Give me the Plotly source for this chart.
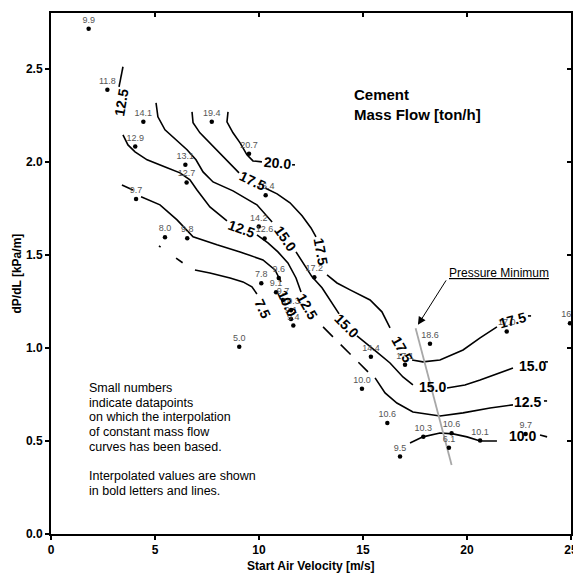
import plotly.graph_objects as go

# ---- measured datapoints (air velocity, pressure gradient, cement mass flow label) ----
pt_x = [1.81, 2.71, 4.44, 4.05, 6.46, 6.52, 4.09, 7.73, 9.52, 10.32, 5.48, 6.55,
        9.99, 10.27, 10.95, 10.11, 10.82, 11.15, 11.54, 11.54, 11.65, 9.05, 12.66,
        15.38, 14.95, 16.17, 17.02, 18.22, 17.90, 19.26, 19.13, 20.63, 22.82,
        16.78, 21.91, 24.95]
pt_y = [2.715, 2.387, 2.215, 2.082, 1.985, 1.889, 1.801, 2.215, 2.043, 1.820,
        1.595, 1.590, 1.652, 1.588, 1.376, 1.347, 1.299, 1.258, 1.204, 1.156,
        1.120, 1.007, 1.380, 0.953, 0.781, 0.597, 0.909, 1.022, 0.523, 0.541,
        0.464, 0.502, 0.538, 0.416, 1.088, 1.133]
pt_label = ["9.9", "11.8", "14.1", "12.9", "13.1", "12.7", "9.7", "19.4", "20.7",
            "16.4", "8.0", "9.8", "14.2", "12.6", "9.6", "7.8", "9.1", "9.7",
            "10.3", "9.1", "9.4", "5.0", "17.2", "14.4", "10.0", "10.6", "17.1",
            "18.6", "10.3", "10.6", "6.1", "10.1", "9.7", "9.5", "17.0", "16.5"]

# ---- interpolated constant mass-flow curves (None = gap for the curve label) ----
c200_x = [8.51, 8.46, 8.75, 9.09, 9.42, 9.71, 10.14, None, 11.59, 11.73]
c200_y = [2.269, 2.215, 2.156, 2.102, 2.038, 2.005, 2.000, None, 1.984, 1.984]

c175_x = [6.78, 6.83, 7.16, 7.64, 8.27, 8.75, 9.04, None,
          10.29, 10.87, 11.49, 12.07, 12.50, 12.74, None,
          13.27, 13.75, 14.38, 15.34, 15.91, 16.30, None,
          17.36, 17.88, 18.70, 19.81, 20.63, 21.44, None, 22.93, 23.08]
c175_y = [2.269, 2.210, 2.156, 2.102, 2.027, 1.973, 1.941, None,
          1.860, 1.828, 1.780, 1.710, 1.645, 1.597, None,
          1.392, 1.349, 1.312, 1.258, 1.194, 1.108, None,
          0.935, 0.925, 0.935, 0.989, 1.054, 1.113, None, 1.172, 1.172]

c150_x = [5.05, 5.14, 5.48, 6.06, 6.54, 6.97, 7.31, 7.79, 8.75, 9.90, 10.63, None,
          11.78, 12.12, 12.55, 13.03, 13.51, 13.85, None,
          14.71, 15.14, 15.67, 16.30, 16.92, 17.40, None,
          19.04, 19.90, 20.63, 21.44, 22.21, None, 23.75, 23.89]
c150_y = [2.317, 2.242, 2.172, 2.113, 2.065, 2.011, 1.946, 1.892, 1.844, 1.769, 1.677, None,
          1.516, 1.457, 1.382, 1.323, 1.242, 1.183, None,
          1.065, 1.027, 0.978, 0.919, 0.844, 0.801, None,
          0.785, 0.801, 0.828, 0.860, 0.892, None, 0.925, 0.925]

c125_x = [3.46, 3.27, None,
          3.46, 3.70, 4.04, 4.62, 5.58, 6.20, 6.68, 7.02, 7.64, 8.46, None,
          9.90, 10.43, 10.91, 11.39, 11.78, 12.02, None,
          15.58, 16.06, 16.63, 17.40, 18.70, 19.81, 21.11, 22.21, None, 23.70, 23.85]
c125_y = [2.511, 2.403, None,
          2.145, 2.091, 2.054, 2.011, 1.968, 1.941, 1.903, 1.849, 1.758, 1.683, None,
          1.608, 1.565, 1.516, 1.457, 1.376, 1.301, None,
          0.839, 0.758, 0.704, 0.656, 0.634, 0.651, 0.677, 0.694, None, 0.715, 0.715]
c125_ext_x = [13.08, 15.24]
c125_ext_y = [1.113, 0.871]

c100_x = [3.41, 3.94, None, 4.33, 5.24, 6.06, 6.83, 7.98, 9.09, 10.19, 10.77, 11.06, None,
          17.26, 17.88, 18.70, 19.33, 20.00, 20.63, 21.44, None, 23.51, 23.85]
c100_y = [1.876, 1.849, None, 1.812, 1.769, 1.688, 1.597, 1.554, 1.516, 1.473, 1.419, 1.355, None,
          0.489, 0.522, 0.543, 0.538, 0.522, 0.500, 0.500, None, 0.532, 0.522]

c075_x = [6.92, 7.64, 8.61, 9.23, 9.66, 9.90]
c075_y = [1.419, 1.403, 1.376, 1.355, 1.328, 1.290]
c075_ext_x = [5.19, 6.68]
c075_ext_y = [1.548, 1.430]

# curve labels: value, x, y, text angle
curve_labels = [
    ("20.0", 10.91, 1.995, 5),
    ("17.5", 9.71, 1.898, 25), ("17.5", 12.98, 1.516, 80),
    ("17.5", 16.88, 0.995, 60), ("17.5", 22.21, 1.151, -15),
    ("15.0", 11.25, 1.591, 55), ("15.0", 14.23, 1.118, 45),
    ("15.0", 18.32, 0.790, 0), ("15.0", 23.13, 0.903, 0),
    ("12.5", 3.37, 2.317, -80), ("12.5", 9.18, 1.640, 20),
    ("12.5", 12.31, 1.226, 60), ("12.5", 22.93, 0.710, 0),
    ("10.0", 11.35, 1.242, 65), ("10.0", 22.69, 0.527, 0),
    ("7.5", 10.19, 1.210, 65),
]

# pressure-minimum locus
pmin_x = [17.53, 19.26]
pmin_y = [1.106, 0.371]

x_ticks = [0, 5, 10, 15, 20, 25]
y_ticks = [0.0, 0.5, 1.0, 1.5, 2.0, 2.5]

FONT = "Liberation Sans, Arial, sans-serif"

fig = go.Figure()

line_style = dict(color="black", width=1.6)
for cx, cy in [(c200_x, c200_y), (c175_x, c175_y), (c150_x, c150_y),
               (c125_x, c125_y), (c100_x, c100_y), (c075_x, c075_y)]:
    fig.add_trace(go.Scatter(x=cx, y=cy, mode="lines", line=line_style,
                             connectgaps=False, showlegend=False, hoverinfo="skip"))

# dashed extrapolations
fig.add_trace(go.Scatter(x=c125_ext_x, y=c125_ext_y, mode="lines",
                         line=dict(color="black", width=1.6, dash="14px,11px"),
                         showlegend=False, hoverinfo="skip"))
fig.add_trace(go.Scatter(x=c075_ext_x, y=c075_ext_y, mode="lines",
                         line=dict(color="black", width=1.6, dash="2px,19px,8px,11px"),
                         showlegend=False, hoverinfo="skip"))

# pressure minimum line
fig.add_trace(go.Scatter(x=pmin_x, y=pmin_y, mode="lines",
                         line=dict(color="#a8a8a8", width=1.8),
                         showlegend=False, hoverinfo="skip"))

# datapoints
fig.add_trace(go.Scatter(x=pt_x, y=pt_y, mode="markers+text", text=pt_label,
                         textposition="top center",
                         textfont=dict(family=FONT, size=9, color="#555555"),
                         marker=dict(color="black", size=4.5),
                         cliponaxis=False, showlegend=False, hoverinfo="skip"))

# frame axes (top / right with inward ticks)
fig.add_trace(go.Scatter(x=[None], y=[None], xaxis="x2", yaxis="y2",
                         showlegend=False, hoverinfo="skip"))

for txt, lx, ly, ang in curve_labels:
    fig.add_annotation(x=lx, y=ly, text=txt, textangle=ang, showarrow=False,
                       font=dict(family=FONT, size=14, color="black", weight="bold"),
                       xanchor="center", yanchor="middle")

fig.add_annotation(x=14.47, y=2.309, xanchor="left", yanchor="middle", align="left",
                   text="Cement<br>Mass Flow [ton/h]", showarrow=False,
                   font=dict(family=FONT, size=15, color="black", weight="bold"))

# pressure minimum callout
fig.add_annotation(x=21.54, y=1.405, text="<u>Pressure Minimum</u>", showarrow=False,
                   xanchor="center", yanchor="middle",
                   font=dict(family=FONT, size=12, color="black"))
fig.add_annotation(x=17.64, y=1.124, ax=19.04, ay=1.371, axref="x", ayref="y",
                   text="", showarrow=True, arrowhead=2, arrowsize=1.6,
                   arrowwidth=1, arrowcolor="black")

note_lines = ["Small numbers", "indicate datapoints", "on which the interpolation",
              "of constant mass flow", "curves has been based.", "",
              "Interpolated values are shown", "in bold letters and lines."]
for i, ln in enumerate(note_lines):
    if ln:
        fig.add_annotation(x=1.73, y=0.785 - i * 0.079, text=ln, showarrow=False,
                           xanchor="left", yanchor="middle",
                           font=dict(family=FONT, size=12.5, color="black"))

# axis titles
fig.add_annotation(xref="paper", yref="paper", x=0.5, y=0, yshift=-32,
                   text="Start Air Velocity [m/s]", showarrow=False,
                   xanchor="center", yanchor="middle",
                   font=dict(family=FONT, size=12, color="black", weight="bold"))
fig.add_annotation(xref="paper", yref="paper", x=0, y=0.5, xshift=-35,
                   text="dP/dL [kPa/m]", textangle=-90, showarrow=False,
                   xanchor="center", yanchor="middle",
                   font=dict(family=FONT, size=12, color="black", weight="bold"))

tickfont = dict(family=FONT, size=12, color="black", weight="bold")
fig.update_layout(
    width=573, height=577,
    margin=dict(l=51, r=2, t=13, b=43, autoexpand=False),
    paper_bgcolor="white", plot_bgcolor="white",
    showlegend=False,
    xaxis=dict(range=[0, 25], tickvals=x_ticks, ticks="outside", ticklen=4,
               tickwidth=1.5, tickcolor="black", showline=True, linewidth=2,
               linecolor="black", showgrid=False, zeroline=False, tickfont=tickfont,
               ticklabeloverflow="allow", automargin=False),
    yaxis=dict(range=[0, 2.8], tickvals=y_ticks, tickformat=".1f", ticks="outside",
               ticklen=4, tickwidth=1.5, tickcolor="black", showline=True,
               linewidth=2, linecolor="black", showgrid=False, zeroline=False,
               tickfont=tickfont, automargin=False),
    xaxis2=dict(range=[0, 25], overlaying="x", side="top", tickvals=x_ticks,
                ticks="inside", ticklen=4, tickwidth=1.5, tickcolor="black",
                showline=True, linewidth=1.5, linecolor="black", showgrid=False,
                zeroline=False, showticklabels=False, automargin=False),
    yaxis2=dict(range=[0, 2.8], overlaying="y", side="right", tickvals=y_ticks,
                ticks="inside", ticklen=4, tickwidth=1.5, tickcolor="black",
                showline=True, linewidth=1.5, linecolor="black", showgrid=False,
                zeroline=False, showticklabels=False, automargin=False),
)

fig.write_html("out.html")
